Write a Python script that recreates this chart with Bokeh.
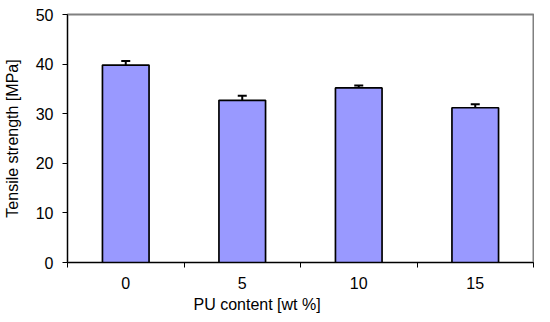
from bokeh.plotting import figure
from bokeh.models import ColumnDataSource, FixedTicker, Whisker, TeeHead, Range1d, Title
from bokeh.embed import file_html
from bokeh.resources import INLINE

categories = ["0", "5", "10", "15"]
strength = [39.8, 32.7, 35.2, 31.2]
errors = [0.85, 0.9, 0.5, 0.7]
y_ticks = [0, 10, 20, 30, 40, 50]

xpos = [i + 0.5 for i in range(len(categories))]
src = ColumnDataSource(dict(
    x=xpos, top=strength,
    upper=[v + e for v, e in zip(strength, errors)],
    lower=[v - e for v, e in zip(strength, errors)],
))

FONT = "Liberation Sans"
p = figure(width=534, height=318, output_backend="svg", toolbar_location=None,
           x_range=Range1d(0, len(categories)), y_range=Range1d(0, 50),
           min_border_left=62, min_border_right=1, min_border_top=14, min_border_bottom=56)
p.grid.visible = False
p.outline_line_color = "#808080"
p.outline_line_width = 2

p.vbar(x="x", top="top", width=0.4, bottom=0, source=src,
       fill_color="#9999FF", line_color="black", line_width=1.7)
w = Whisker(base="x", upper="upper", lower="lower", source=src,
            line_color="black", line_width=2,
            upper_head=TeeHead(size=9, line_width=2, line_color="black"),
            lower_head=TeeHead(size=9, line_width=2, line_color="black"))
p.add_layout(w)

xa = p.xaxis[0]
xa.ticker = FixedTicker(ticks=xpos, minor_ticks=list(range(len(categories) + 1)))
xa.major_label_overrides = {x: c for x, c in zip(xpos, categories)}
xa.major_tick_out = 0
xa.major_tick_in = 0
xa.minor_tick_out = 5
xa.minor_tick_in = 0
xa.minor_tick_line_color = "black"
xa.major_label_standoff = 9

xtitle = Title(text="PU content [wt %]", align="left", offset=126,
               text_font=FONT, text_font_size="16px", text_font_style="normal",
               text_color="black", standoff=5)
p.add_layout(xtitle, "below")

ya = p.yaxis[0]
ya.ticker = FixedTicker(ticks=y_ticks, minor_ticks=[])
ya.major_tick_out = 5
ya.major_tick_in = 0
ya.major_label_standoff = 9
ya.axis_label = "Tensile strength [MPa]"
ya.axis_label_standoff = 12

for ax in (xa, ya):
    ax.axis_line_color = "black"
    ax.axis_line_width = 1
    ax.major_tick_line_color = "black"
    ax.major_label_text_font = FONT
    ax.major_label_text_font_size = "16px"
    ax.major_label_text_color = "black"
    ax.axis_label_text_font = FONT
    ax.axis_label_text_font_size = "16px"
    ax.axis_label_text_font_style = "normal"
    ax.axis_label_text_color = "black"

open("out.html", "w").write(file_html(p, INLINE))
